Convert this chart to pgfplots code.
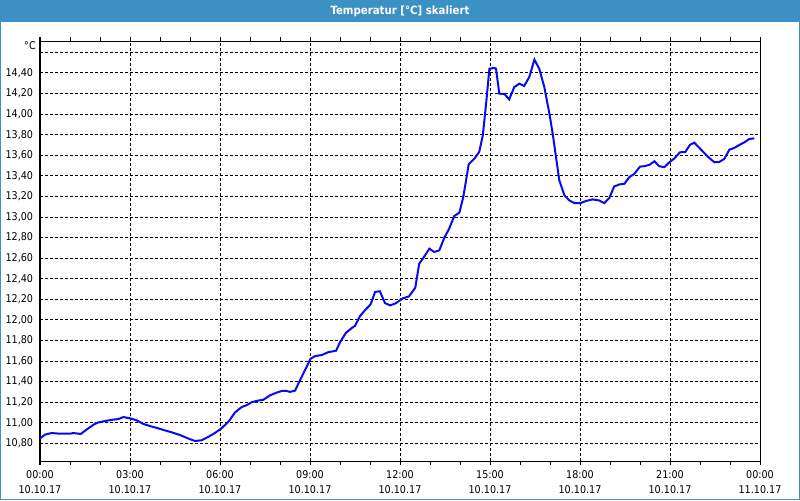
\documentclass[border=0pt]{standalone}
\usepackage{pgfplots}
\pgfplotsset{compat=1.18}
\usepackage{fontspec}
\setmainfont{DejaVu Sans Condensed}
\definecolor{titleblue}{RGB}{60,145,196}
\definecolor{lineblue}{RGB}{10,10,240}
\begin{document}
\begin{tikzpicture}
\fill[white] (0pt,0pt) rectangle (600pt,375pt);
\fill[titleblue] (0pt,358.5pt) rectangle (600pt,375pt);
\draw[titleblue, line width=0.75pt] (0.375pt,0.375pt) rectangle (599.625pt,374.625pt);
\node[white, font=\fontsize{8.5}{10}\selectfont\bfseries] at (300pt,366.75pt) {Temperatur [°C] skaliert};
\begin{axis}[
  at={(30pt,29.25pt)}, anchor=south west,
  scale only axis, width=540pt, height=315pt,
  xmin=0, xmax=24, ymin=10.628, ymax=14.711,
  axis line style={black, line width=0.75pt},
  xtick={0,3,...,24},
  minor xtick={0,1,...,24},
  xticklabels={{00:00\\10.10.17},{03:00\\10.10.17},{06:00\\10.10.17},{09:00\\10.10.17},{12:00\\10.10.17},{15:00\\10.10.17},{18:00\\10.10.17},{21:00\\10.10.17},{00:00\\11.10.17}},
  ytick={10.8,11.0,...,14.41},
  extra y ticks={14.6}, extra y tick labels={},
  tick align=outside, major tick length=3pt, minor tick length=3pt,
  tick style={black, line width=0.75pt},
  ytick style={draw=none},
  extra y tick style={ytick style={draw=none}, grid=major},
  xmajorgrids, ymajorgrids,
  major grid style={black, line width=0.75pt, dash pattern=on 2.25pt off 1.5pt},
  tick label style={font=\fontsize{8}{11.25}\selectfont},
  xticklabel style={align=center, inner sep=0pt, anchor=north, yshift=-4pt},
  yticklabel style={anchor=east, inner sep=0pt, xshift=-2pt,
    /pgf/number format/.cd, fixed, fixed zerofill, precision=2, use comma},
  /pgf/number format/assume math mode=true,
  clip=true,
]
\addplot[lineblue, line width=1.5pt] coordinates {
(0,10.847) (0.17,10.885) (0.39,10.90) (0.67,10.893) (1.0,10.893) (1.11,10.90) (1.36,10.891)
(1.56,10.935) (1.78,10.98) (1.91,11.00) (2.17,11.017) (2.44,11.03) (2.61,11.036) (2.78,11.055)
(3.0,11.043) (3.22,11.024) (3.44,10.989) (3.67,10.967) (3.89,10.95) (4.11,10.93) (4.39,10.907)
(4.67,10.88) (4.94,10.847) (5.17,10.822) (5.39,10.83) (5.61,10.863) (5.83,10.90) (6.06,10.948)
(6.31,11.02) (6.5,11.10) (6.72,11.152) (6.89,11.171) (7.06,11.20) (7.28,11.216) (7.44,11.222)
(7.67,11.267) (7.89,11.293) (8.06,11.309) (8.22,11.309) (8.33,11.30) (8.5,11.312) (8.67,11.414)
(8.83,11.51) (9.02,11.622) (9.17,11.648) (9.39,11.658) (9.61,11.686) (9.87,11.70) (10.0,11.782)
(10.2,11.875) (10.39,11.92) (10.5,11.942) (10.67,12.038) (10.83,12.093) (11.02,12.15) (11.17,12.272)
(11.33,12.278) (11.5,12.163) (11.67,12.141) (11.85,12.16) (12.1,12.21) (12.3,12.228) (12.51,12.313)
(12.64,12.546) (12.76,12.595) (12.98,12.692) (13.14,12.66) (13.31,12.676) (13.48,12.80) (13.64,12.887)
(13.81,13.01) (13.98,13.042) (14.11,13.195) (14.29,13.512) (14.48,13.567) (14.64,13.632) (14.76,13.794)
(14.87,14.102) (14.98,14.442) (15.14,14.449) (15.2,14.442) (15.31,14.199) (15.48,14.196) (15.64,14.144)
(15.81,14.264) (15.98,14.296) (16.14,14.274) (16.31,14.361) (16.48,14.53) (16.64,14.442) (16.81,14.264)
(16.98,14.005) (17.09,13.81) (17.2,13.583) (17.31,13.357) (17.48,13.211) (17.64,13.162) (17.81,13.136)
(18.03,13.136) (18.2,13.156) (18.42,13.171) (18.64,13.161) (18.81,13.135) (18.98,13.187) (19.14,13.297)
(19.31,13.316) (19.48,13.323) (19.64,13.387) (19.81,13.419) (20.0,13.49) (20.14,13.494) (20.31,13.506)
(20.48,13.542) (20.64,13.494) (20.81,13.484) (20.98,13.532) (21.14,13.568) (21.33,13.629) (21.51,13.632)
(21.67,13.703) (21.81,13.723) (21.98,13.671) (22.14,13.623) (22.31,13.574) (22.48,13.532) (22.64,13.535)
(22.81,13.565) (22.98,13.655) (23.14,13.671) (23.31,13.70) (23.48,13.726) (23.64,13.758) (23.81,13.765)
};
\end{axis}
\node[anchor=east, inner sep=0pt, font=\fontsize{8}{10}\selectfont] at (27pt,340.5pt) {°C};
\end{tikzpicture}
\end{document}
